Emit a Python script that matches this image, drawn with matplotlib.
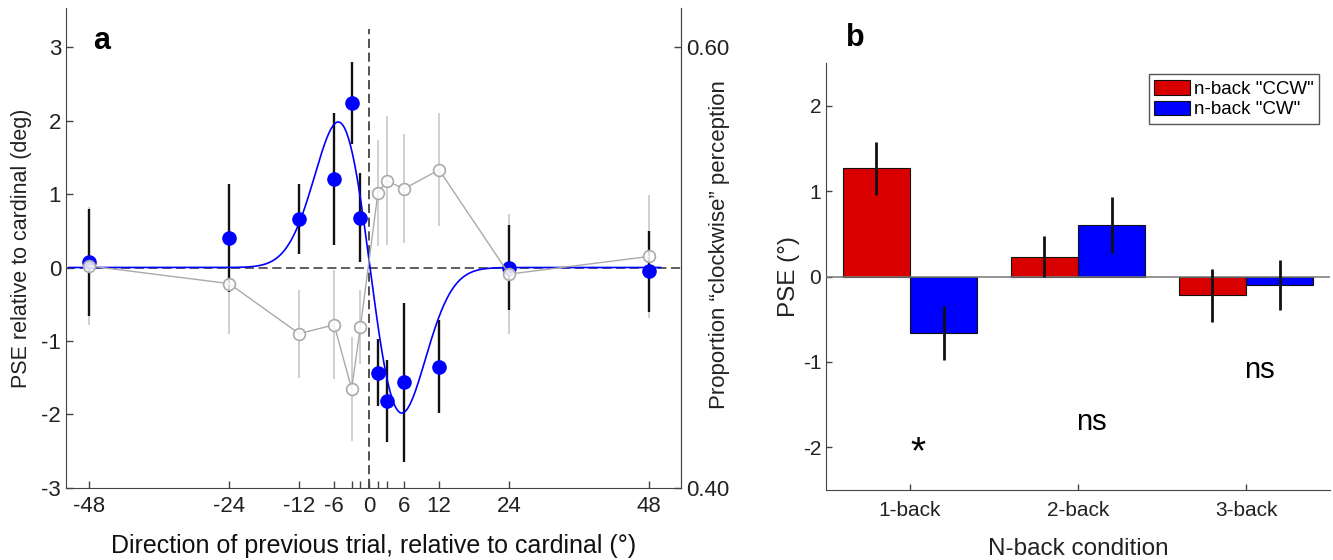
import numpy as np
import matplotlib as mpl
mpl.use("Agg")
import matplotlib.pyplot as plt

plt.rcParams["font.family"] = ["Liberation Sans", "DejaVu Sans"]
plt.rcParams["axes.unicode_minus"] = False

# panel a: serial dependence by previous-trial direction
prevDirs = [-48, -24, -12, -6, -3, -1.5, 1.5, 3, 6, 12, 24, 48]
labelDirs = [-48, -24, -12, -6, 0, 6, 12, 24, 48]
psePrev = [0.07, 0.40, 0.66, 1.20, 2.24, 0.68, -1.43, -1.82, -1.56, -1.35, 0.0, -0.05]
psePrevErr = [0.73, 0.73, 0.47, 0.90, 0.56, 0.60, 0.46, 0.56, 1.08, 0.63, 0.58, 0.55]
propCw = [0.5007, 0.4927, 0.4700, 0.4740, 0.4450, 0.4730, 0.5337, 0.5393, 0.5357, 0.5443, 0.4970, 0.5050]
propCwErr = [0.0267, 0.0227, 0.0200, 0.0247, 0.0237, 0.0167, 0.0240, 0.0293, 0.0247, 0.0257, 0.0273, 0.0277]
# derivative-of-Gaussian fit
dogAmp = 1.98
dogWidth = 5.45
dogCenter = 0.15

# panel b: n-back PSE
nbackLabels = ["1-back", "2-back", "3-back"]
pseCcw = [1.27, 0.23, -0.22]
pseCcwErr = [0.31, 0.24, 0.31]
pseCw = [-0.66, 0.60, -0.10]
pseCwErr = [0.32, 0.33, 0.29]
sigLabels = ["*", "ns", "ns"]
sigY = [-2.07, -1.70, -1.09]


def propToPse(p):
  return (np.asarray(p) - 0.5) * 30.0

def pseToProp(y):
  return 0.5 + np.asarray(y) / 30.0

def dog(x):
  z = (x - dogCenter) / dogWidth
  return -dogAmp * z * np.exp(0.5 - 0.5 * z ** 2)


fig = plt.figure(figsize=(13.33, 5.6), dpi=100)
spineColor = "#444444"

# ---------------- panel a ----------------
ax = fig.add_axes([0.0495, 0.1286, 0.4614, 0.857])
ax.set_xlim(-52, 53.5)
ax.set_ylim(-3, 3.53)

ax.axhline(0, color="#333333", lw=1.1, ls=(0, (6, 3)), zorder=1)
ax.plot([0, 0], [-3, 3.25], color="#222222", lw=1.1, ls=(0, (6, 3)), zorder=1)

ax.errorbar(prevDirs, propToPse(propCw), yerr=np.asarray(propCwErr) * 30.0, fmt="none",
    ecolor="#c4c4c4", elinewidth=1.1, capsize=0, zorder=2)
ax.errorbar(prevDirs, psePrev, yerr=psePrevErr, fmt="none", ecolor="#111111",
    elinewidth=1.7, capsize=0, zorder=3)
xs = np.linspace(-51.5, 50, 600)
ax.plot(xs, dog(xs), color="#0000ff", lw=1.2, zorder=4)
ax.plot(prevDirs, psePrev, "o", color="#0000ff", ms=9.5, mec="#0000ff", zorder=5)
ax.plot(prevDirs, propToPse(propCw), "-o", color="#aaaaaa", lw=1.0, ms=8.5,
    mfc=(1, 1, 1, 0.85), mec="#aaaaaa", mew=1.2, zorder=6)

ax.set_xticks(labelDirs)
ax.set_xticklabels([str(d) for d in labelDirs])
ax.set_xticks([-3, -1.5, 1.5, 3], minor=True)
ax.set_yticks([-3, -2, -1, 0, 1, 2, 3])
ax.tick_params(which="both", direction="in", length=5, width=1, color=spineColor,
    labelsize=16, labelcolor="#222222")
ax.tick_params(axis="x", pad=6)
for side in ["left", "bottom", "right"]:
  ax.spines[side].set_color(spineColor)
ax.spines["top"].set_visible(False)

ax.set_xlabel("Direction of previous trial, relative to cardinal (°)", fontsize=18, color="#111111")
ax.xaxis.set_label_coords(0.5, -0.095)
ax.set_ylabel("PSE relative to cardinal (deg)", fontsize=15.5, color="#222222")
ax.yaxis.set_label_coords(-0.056, 0.5)

sec = ax.secondary_yaxis("right", functions=(pseToProp, propToPse))
sec.set_yticks([0.40, 0.60])
sec.set_yticklabels(["0.40", "0.60"])
sec.tick_params(direction="in", length=5, width=1, color=spineColor, labelsize=16,
    labelcolor="#222222")
sec.spines["right"].set_color(spineColor)
fig.text(720 / 1333, 1 - 245 / 560, "Proportion \u201cclockwise\u201d perception", fontsize=16,
    color="#222222", rotation=90, ha="center", va="center")

fig.text(0.0765, 0.927, "a", fontsize=22, fontweight="bold", ha="center", va="center")

# ---------------- panel b ----------------
bx = fig.add_axes([0.6197, 0.125, 0.3781, 0.7625])
pos = np.arange(1, len(nbackLabels) + 1)
barW = 0.4
bx.bar(pos - barW / 2, pseCcw, barW, color="#d90000", edgecolor="#111111", lw=0.8,
    label="n-back \"CCW\"", zorder=2)
bx.bar(pos + barW / 2, pseCw, barW, color="#0000ff", edgecolor="#111111", lw=0.8,
    label="n-back \"CW\"", zorder=2)
bx.errorbar(pos - barW / 2, pseCcw, yerr=pseCcwErr, fmt="none", ecolor="#111111",
    elinewidth=2.0, capsize=0, zorder=4)
bx.errorbar(pos + barW / 2, pseCw, yerr=pseCwErr, fmt="none", ecolor="#111111",
    elinewidth=2.0, capsize=0, zorder=4)
bx.axhline(0, color="#777777", lw=1.1, zorder=3)

for i, (lab, yv) in enumerate(zip(sigLabels, sigY)):
  if lab == "*":
    bx.text(pos[i] + 0.05, yv, lab, fontsize=28, ha="center", va="center")
  else:
    bx.text(pos[i] + 0.08, yv, lab, fontsize=21, ha="center", va="center")

bx.set_xlim(0.5, 3.5)
bx.set_ylim(-2.5, 2.5)
bx.set_xticks(pos)
bx.set_xticklabels(nbackLabels)
bx.set_yticks([-2, -1, 0, 1, 2])
bx.tick_params(direction="in", length=4.5, width=1, color=spineColor, labelsize=15,
    labelcolor="#222222")
bx.tick_params(axis="x", pad=8)
for side in ["left", "bottom"]:
  bx.spines[side].set_color(spineColor)
for side in ["top", "right"]:
  bx.spines[side].set_visible(False)

bx.set_xlabel("N-back condition", fontsize=17.5, color="#222222")
bx.xaxis.set_label_coords(0.5, -0.112)
bx.set_ylabel("PSE (°)", fontsize=17.5, color="#222222")
bx.yaxis.set_label_coords(-0.052, 0.5)

leg = bx.legend(loc="upper right", bbox_to_anchor=(0.978, 0.974), borderaxespad=0,
    fontsize=13.5, fancybox=False, edgecolor="#555555", framealpha=1,
    handlelength=1.9, handleheight=0.85, handletextpad=0.2, labelspacing=0.15,
    borderpad=0.3)
leg.get_frame().set_linewidth(1.0)

fig.text(0.642, 0.932, "b", fontsize=22, fontweight="bold", ha="center", va="center")

fig.savefig("out.png", dpi=100)
